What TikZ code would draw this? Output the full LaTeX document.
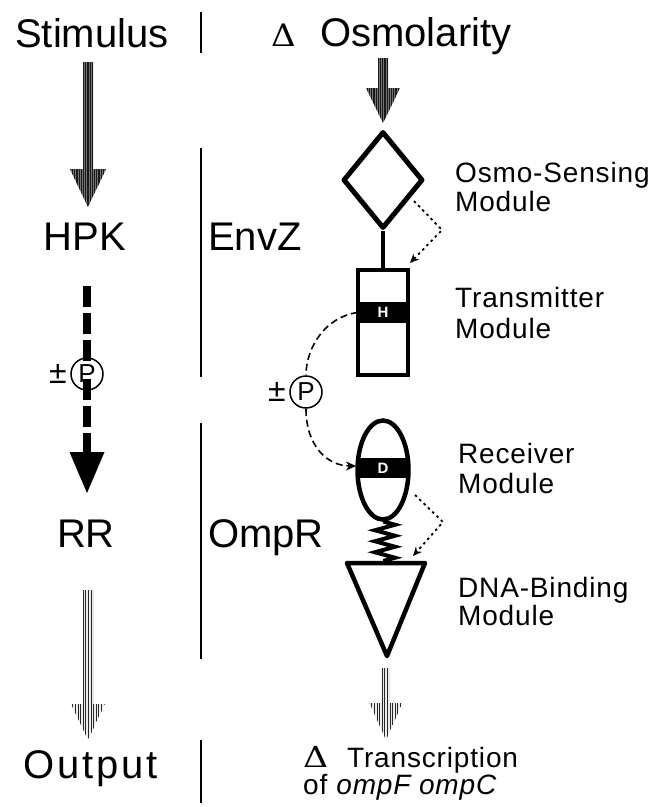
\documentclass[tikz,border=0pt]{standalone}
\usepackage{fontspec}
\setmainfont{Liberation Sans}
\newfontfamily\serifD{DejaVu Serif}
\usetikzlibrary{patterns.meta,arrows.meta,decorations.pathmorphing,shapes.geometric,calc}
\tikzset{
  hatchdark/.style={fill=black!55, postaction={pattern={Lines[angle=90,distance=2.2pt,line width=1.1pt]}, pattern color=black!90}},
  hatchlight/.style={fill=gray!15, postaction={pattern={Lines[angle=90,distance=2.6pt,line width=0.7pt]}, pattern color=black!85}},
}
\newcommand\hatcharrow[6]{%
  \path[#6] let \p1=(#1), \p2=(#2) in
    (\x1-#3pt,\y1) -- (\x1+#3pt,\y1) -- (\x1+#3pt,\y2+#5pt) -- (\x1+#4pt,\y2+#5pt)
    -- (\x2,\y2) -- (\x1-#4pt,\y2+#5pt) -- (\x1-#3pt,\y2+#5pt) -- cycle;}
\begin{document}
\begin{tikzpicture}[x=1pt,y=-1pt,
  big/.style={font=\fontsize{40}{40}\selectfont, inner sep=0pt, anchor=base},
  bigw/.style={big, anchor=base west},
  lab/.style={font=\fontsize{28}{30}\selectfont\addfontfeature{LetterSpace=3}, inner sep=0pt, anchor=base west},
  sepline/.style={line width=1.8pt},
  thickline/.style={line width=4.5pt, line join=round},
  pcircle/.style={circle, draw, line width=1.5pt, minimum size=32pt, inner sep=0pt, font=\fontsize{26}{26}\selectfont},
  pm/.style={inner sep=0pt, anchor=center, font=\fontsize{32}{32}\selectfont},
  bandlabel/.style={text=white, inner sep=0pt, font=\fontsize{15}{15}\selectfont\bfseries},
  phos/.style={line width=1.6pt, dash pattern=on 7pt off 4pt},
  dots/.style={line width=1.8pt, dash pattern=on 2.5pt off 3.5pt, -{Stealth[length=9pt,width=8pt]}},
  deltanode/.style={inner sep=0pt, anchor=base west},
]
\useasboundingbox (0,0) rectangle (651,807);

% ---------- headings ----------
\node[big] (stim) at (92,47) {Stimulus};
\node[deltanode, font=\serifD\fontsize{31}{31}\selectfont] (dosm) at (271,46) {\scalebox{1.1}[1]{Δ}};
\node[bigw] (osm) at (320,46) {Osmolarity};

% separators
\coordinate (s1a) at (201,12);  \coordinate (s1b) at (201,53);
\coordinate (s2a) at (201,148); \coordinate (s2b) at (201,377);
\coordinate (s3a) at (201,423); \coordinate (s3b) at (201,659);
\coordinate (s4a) at (201,740); \coordinate (s4b) at (201,803);
\draw[sepline] (s1a) -- (s1b);
\draw[sepline] (s2a) -- (s2b);
\draw[sepline] (s3a) -- (s3b);
\draw[sepline] (s4a) -- (s4b);

% ---------- left column ----------
\node[big] (hpk) at (85,250) {HPK};
\node[bigw] (envz) at (208,250) {EnvZ};
\node[big] (rr) at (86,547) {RR};
\node[bigw] (ompr) at (208,547) {OmpR};
\node[big, font=\fontsize{40}{40}\selectfont\addfontfeature{LetterSpace=7}] (out) at (91,778) {Output};

% hatched arrows left
\coordinate (la1) at (88,62);  \coordinate (lt1) at (88,207);
\hatcharrow{la1}{lt1}{5}{18}{38}{hatchdark}
\coordinate (la2) at (88,590); \coordinate (lt2) at (88,740);
\hatcharrow{la2}{lt2}{5}{17}{36}{hatchlight}

% dashed phospho arrow left
\node[pcircle] (pL) at (87,374) {P};
\node[pm] (pmL) at (58,374) {±};
\coordinate (ld1) at (87,286);
\coordinate (ld2) at (87,452);
\coordinate (lhead) at (87,493);
\draw[line width=8pt, dash pattern=on 21pt off 6pt] (ld1) -- ([yshift=-4pt]pL.north);
\draw[line width=8pt, dash pattern=on 21pt off 6pt] ([yshift=12pt]pL.south) -- (ld2);
\fill let \p1=(ld2), \p2=(lhead) in (\x1-17.5pt,\y1) -- (\x1+17.5pt,\y1) -- (\p2) -- cycle;

% ---------- right column ----------
\coordinate (ra1) at (383,58); \coordinate (rt1) at (383,123);
\hatcharrow{ra1}{rt1}{5}{17}{35}{hatchdark}

% sensing diamond
\node[diamond, draw, line width=5pt, line join=round, minimum width=80pt, minimum height=97pt, inner sep=0pt] (sens) at (383,180) {};
% transmitter box
\node[draw, line width=4.5pt, minimum width=50pt, minimum height=105pt, inner sep=0pt] (box) at (383,322.5) {};
\node[fill=black, minimum width=50pt, minimum height=21pt, inner sep=0pt] (hband) at (383,312.5) {};
\node[bandlabel] (hlab) at (hband.center) {H};
\draw[line width=4pt] (sens.south) -- (box.north);

% dotted arrow diamond -> box
\coordinate (do1) at (414,201);
\coordinate (do2) at (442,230);
\coordinate (do3) at (410,263);
\draw[dots] (do1) -- (do2) -- (do3);

% phospho transfer
\node[pcircle] (pR) at (306,392) {P};
\node[pm] (pmR) at (277,392) {±};
\draw[phos] (hband.west) .. controls +(-32,4) and +(0,-28) .. (pR.north);

% receiver ellipse
\node[ellipse, draw, line width=4.5pt, minimum width=51pt, minimum height=99pt, inner sep=0pt] (recv) at (383,470) {};
\begin{scope}
  \clip (383,470) ellipse [x radius=25pt, y radius=49pt];
  \fill (355,458) rectangle (411,478);
\end{scope}
\node[bandlabel] (dlab) at (383,468.5) {D};
\coordinate (dband) at (356,466);
\draw[phos, -{Stealth[length=10pt,width=9pt]}] (pR.south) .. controls +(0,38) and +(-28,0) .. (dband);

% spring
\coordinate (sp1) at (385,519);
\coordinate (sp2) at (385,564);
\draw[line width=4pt, decorate, decoration={zigzag, segment length=11pt, amplitude=10pt, pre length=3pt, post length=3pt}] (sp1) -- (sp2);

% DNA-binding triangle
\coordinate (tl) at (347,563);
\coordinate (tr) at (425,563);
\coordinate (tb) at (387,656);
\draw[thickline] (tl) -- (tr) -- (tb) -- cycle;

% dotted arrow ellipse -> triangle
\coordinate (de1) at (415,495);
\coordinate (de2) at (443,522);
\coordinate (de3) at (413,556);
\draw[dots] (de1) -- (de2) -- (de3);

% bottom right arrow
\coordinate (ra2) at (386,668); \coordinate (rt2) at (386,740);
\hatcharrow{ra2}{rt2}{4.5}{16.5}{37}{hatchlight}

% ---------- right labels ----------
\node[lab] (l1a) at (455,182) {Osmo-Sensing};
\node[lab] (l1b) at (455,211) {Module};
\node[lab] (l2a) at (455,307) {Transmitter};
\node[lab] (l2b) at (455,338) {Module};
\node[lab] (l3a) at (458,463) {Receiver};
\node[lab] (l3b) at (458,493) {Module};
\node[lab] (l4a) at (458,597) {DNA-Binding};
\node[lab] (l4b) at (458,625) {Module};

% output text
\node[deltanode, font=\serifD\fontsize{29}{29}\selectfont] (dtr) at (303,767) {\scalebox{1.2}[1]{Δ}};
\node[lab] (trans) at (347,767) {Transcription};
\node[lab] (ofomp) at (303,794) {of\hspace{9pt}\textit{ompF ompC}};
\end{tikzpicture}
\end{document}
